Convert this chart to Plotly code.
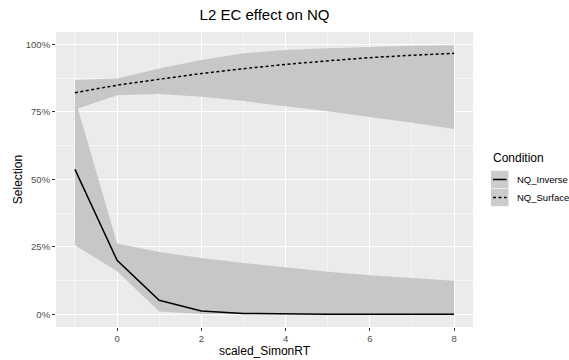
import plotly.graph_objects as go

# ---- data ----
x_vals = [-1, 0, 1, 2, 3, 4, 5, 6, 7, 8]
inv_mean = [0.537, 0.200, 0.052, 0.012, 0.003, 0.001, 0.0005, 0.0002, 0.0001, 0.0]
inv_lo = [0.256, 0.160, 0.010, 0.001, 0.0, 0.0, 0.0, 0.0, 0.0, 0.0]
inv_hi = [0.800, 0.262, 0.231, 0.209, 0.190, 0.173, 0.158, 0.145, 0.134, 0.124]
surf_mean = [0.821, 0.849, 0.871, 0.892, 0.910, 0.926, 0.939, 0.951, 0.960, 0.967]
surf_lo = [0.759, 0.812, 0.816, 0.806, 0.790, 0.771, 0.752, 0.732, 0.710, 0.687]
surf_hi = [0.868, 0.874, 0.911, 0.942, 0.967, 0.979, 0.986, 0.991, 0.995, 0.997]
series_names = ["NQ_Inverse", "NQ_Surface"]
y_ticks = [0, 0.25, 0.5, 0.75, 1.0]
y_tick_text = ["0%", "25%", "50%", "75%", "100%"]
x_ticks = [0, 2, 4, 6, 8]

RIBBON = "#C7C7C7"
PANEL = "#EBEBEB"
FONT = "Liberation Sans, Arial, sans-serif"

fig = go.Figure()

def ribbon(lo, hi):
    return go.Scatter(
        x=x_vals + x_vals[::-1], y=hi + lo[::-1],
        fill="toself", fillcolor=RIBBON, line=dict(width=0),
        mode="lines", hoverinfo="skip", showlegend=False)

fig.add_trace(ribbon(surf_lo, surf_hi))
fig.add_trace(ribbon(inv_lo, inv_hi))
fig.add_trace(go.Scatter(x=x_vals, y=inv_mean, mode="lines", name=series_names[0],
                         line=dict(color="black", width=1.5), showlegend=False))
fig.add_trace(go.Scatter(x=x_vals, y=surf_mean, mode="lines", name=series_names[1],
                         line=dict(color="black", width=1.5, dash="3px,2.5px"), showlegend=False))

W, H = 569, 360
L, R, T, B = 56, 473, 32, 327

def px(p):
    return (p - L) / (R - L)

def py(p):
    return (B - p) / (B - T)

shapes = []
annotations = []
# legend
annotations.append(dict(x=px(490.5), y=py(158), xref="paper", yref="paper", text="Condition",
                        showarrow=False, xanchor="left", yanchor="middle",
                        font=dict(size=12, color="black", family=FONT)))
key_centers = [179.5, 197.5]
dashes = ["solid", "3px,2.5px"]
for name, cy, d in zip(series_names, key_centers, dashes):
    shapes.append(dict(type="rect", xref="paper", yref="paper",
                       x0=px(491), x1=px(508.5), y0=py(cy - 8.7), y1=py(cy + 8.7),
                       fillcolor="#CCCCCC", line=dict(width=0), layer="above"))
    shapes.append(dict(type="line", xref="paper", yref="paper",
                       x0=px(493), x1=px(506.5), y0=py(cy), y1=py(cy),
                       line=dict(color="black", width=1.5, dash=d), layer="above"))
    annotations.append(dict(x=px(514.5), y=py(cy), xref="paper", yref="paper", text=name,
                            showarrow=False, xanchor="left", yanchor="middle",
                            font=dict(size=9.5, color="black", family=FONT)))

fig.update_layout(
    width=W, height=H,
    margin=dict(l=L, r=W - R, t=T, b=H - B),
    paper_bgcolor="white", plot_bgcolor=PANEL,
    font=dict(family=FONT),
    title=dict(text="L2 EC effect on NQ", x=(L + R) / 2 / W, xanchor="center",
               y=1 - 15 / H, yanchor="middle",
               font=dict(size=15, color="black", family=FONT)),
    shapes=shapes, annotations=annotations, showlegend=False,
)
fig.update_xaxes(
    automargin=False,
    range=[-1.45, 8.45], tickmode="array", tickvals=x_ticks,
    ticks="outside", ticklen=3, tickcolor="#333333", tickwidth=1,
    tickfont=dict(size=9.5, color="#4D4D4D", family=FONT),
    showgrid=True, gridcolor="white", gridwidth=1.1, zeroline=False, showline=False,
    minor=dict(tickmode="linear", tick0=-1, dtick=1, showgrid=True, gridcolor="#F6F6F6", gridwidth=0.6, ticks=""),
    title=dict(text="scaled_SimonRT", font=dict(size=12, color="black", family=FONT), standoff=2),
)
fig.update_yaxes(
    automargin=False,
    range=[-0.047, 1.046], tickmode="array", tickvals=y_ticks, ticktext=y_tick_text,
    ticks="outside", ticklen=3, tickcolor="#333333", tickwidth=1,
    tickfont=dict(size=9.5, color="#4D4D4D", family=FONT),
    showgrid=True, gridcolor="white", gridwidth=1.1, zeroline=False, showline=False,
    minor=dict(tickmode="linear", tick0=0.125, dtick=0.25, showgrid=True, gridcolor="#F6F6F6", gridwidth=0.6, ticks=""),
    title=dict(text="Selection", font=dict(size=12, color="black", family=FONT), standoff=0),
)

fig.write_html("out.html", config={"displayModeBar": False},
               post_script="document.body.style.margin='0';document.body.style.overflow='hidden';")
